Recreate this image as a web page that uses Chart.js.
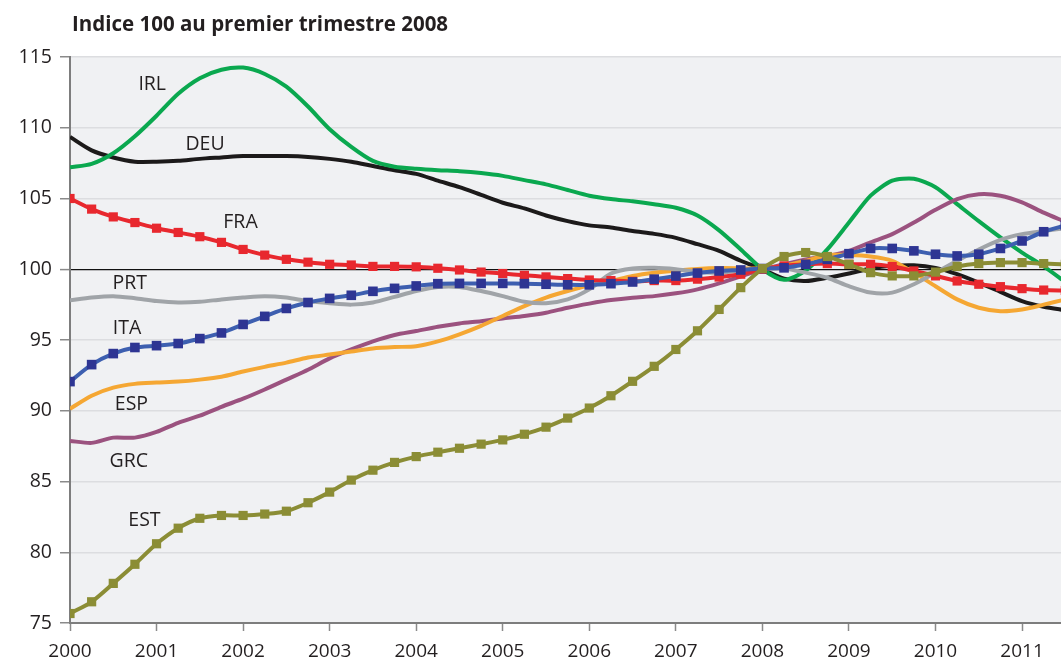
<!DOCTYPE html>
<html>
<head>
<meta charset="utf-8">
<script src="https://cdn.jsdelivr.net/npm/chart.js@4/dist/chart.umd.min.js"></script>
<style>
  body { margin: 0; background: #fff; }
  #wrap { width: 1061px; height: 664px; }
</style>
</head>
<body>
<div id="wrap"><canvas id="myChart" width="1061" height="664"></canvas></div>
<script>
// Indice 100 au premier trimestre 2008, quarterly from 2000 Q1
var years = [2000, 2001, 2002, 2003, 2004, 2005, 2006, 2007, 2008, 2009, 2010, 2011];
var yTicks = [75, 80, 85, 90, 95, 100, 105, 110, 115];

var irl = [107.2, 107.45, 108.2, 109.4, 110.85, 112.4, 113.5, 114.1, 114.25, 113.8, 112.9, 111.5, 109.9, 108.65, 107.66, 107.25,
  107.1, 107.0, 106.93, 106.8, 106.6, 106.3, 106.0, 105.6, 105.2, 104.96, 104.8, 104.6, 104.35, 103.8, 102.75, 101.4,
  100.0, 99.25, 99.9, 101.4, 103.3, 105.2, 106.26, 106.4, 105.8, 104.6, 103.4, 102.25, 101.18, 100.2, 99.1];
var deu = [109.35, 108.4, 107.9, 107.6, 107.6, 107.66, 107.8, 107.9, 108.0, 108.0, 108.0, 107.94, 107.8, 107.6, 107.3, 107.0,
  106.74, 106.26, 105.8, 105.25, 104.7, 104.3, 103.8, 103.4, 103.1, 102.95, 102.7, 102.5, 102.22, 101.77, 101.3, 100.6,
  100.0, 99.34, 99.17, 99.4, 99.7, 100.05, 100.24, 100.28, 100.1, 99.65, 99.05, 98.4, 97.75, 97.35, 97.1];
var fra = [105.0, 104.25, 103.7, 103.3, 102.9, 102.6, 102.3, 101.9, 101.4, 101.0, 100.7, 100.5, 100.35, 100.3, 100.2, 100.2,
  100.17, 100.07, 99.95, 99.8, 99.7, 99.57, 99.46, 99.34, 99.24, 99.2, 99.15, 99.2, 99.2, 99.3, 99.45, 99.65,
  100.0, 100.24, 100.35, 100.4, 100.35, 100.35, 100.19, 99.88, 99.53, 99.17, 98.94, 98.77, 98.63, 98.53, 98.5];
var prt = [97.8, 98.0, 98.1, 97.95, 97.75, 97.65, 97.7, 97.87, 98.0, 98.1, 98.0, 97.75, 97.6, 97.5, 97.65, 98.05,
  98.46, 98.75, 98.75, 98.46, 98.1, 97.7, 97.6, 97.87, 98.58, 99.7, 100.05, 100.1, 100.0, 99.8, 99.76, 99.9,
  100.05, 100.05, 99.76, 99.4, 98.8, 98.35, 98.35, 98.94, 99.76, 100.6, 101.4, 102.08, 102.48, 102.7, 102.9];
var ita = [92.06, 93.26, 94.04, 94.47, 94.6, 94.75, 95.1, 95.5, 96.1, 96.67, 97.23, 97.65, 97.94, 98.16, 98.44, 98.65,
  98.82, 98.98, 99.0, 99.0, 99.0, 98.98, 98.94, 98.9, 98.9, 98.98, 99.1, 99.3, 99.52, 99.73, 99.88, 99.95,
  100.05, 100.1, 100.35, 100.7, 101.1, 101.47, 101.47, 101.3, 101.06, 100.94, 101.06, 101.47, 102.0, 102.65, 103.1];
var esp = [90.14, 91.06, 91.63, 91.9, 91.99, 92.06, 92.2, 92.4, 92.77, 93.1, 93.4, 93.76, 93.97, 94.18, 94.4, 94.5,
  94.56, 94.9, 95.4, 96.0, 96.7, 97.4, 98.0, 98.46, 98.86, 99.17, 99.53, 99.76, 99.9, 100.02, 100.08, 100.07,
  100.05, 100.24, 100.6, 101.0, 101.0, 100.9, 100.6, 99.76, 98.8, 97.87, 97.28, 97.04, 97.16, 97.5, 97.87];
var grc = [87.87, 87.73, 88.1, 88.1, 88.5, 89.15, 89.65, 90.28, 90.85, 91.5, 92.2, 92.9, 93.7, 94.33, 94.9, 95.35,
  95.63, 95.93, 96.17, 96.33, 96.52, 96.7, 96.93, 97.28, 97.57, 97.82, 97.99, 98.1, 98.3, 98.58, 99.0, 99.5,
  100.0, 100.35, 100.7, 100.94, 101.3, 101.9, 102.48, 103.3, 104.2, 104.96, 105.3, 105.2, 104.73, 104.0, 103.35];
var est = [75.67, 76.5, 77.8, 79.15, 80.6, 81.7, 82.4, 82.6, 82.6, 82.7, 82.9, 83.5, 84.25, 85.1, 85.8, 86.35,
  86.76, 87.07, 87.35, 87.64, 87.94, 88.34, 88.84, 89.48, 90.19, 91.06, 92.08, 93.14, 94.33, 95.65, 97.16, 98.7,
  100.05, 100.9, 101.18, 100.9, 100.35, 99.76, 99.53, 99.53, 99.8, 100.19, 100.4, 100.47, 100.47, 100.4, 100.35];

// series name labels placed in data coordinates [name, year, value]
var seriesLabels = [
  ["IRL", 2000.95, 113.06],
  ["DEU", 2001.56, 108.82],
  ["FRA", 2001.97, 103.34],
  ["PRT", 2000.69, 98.99],
  ["ITA", 2000.66, 95.85],
  ["ESP", 2000.71, 90.48],
  ["GRC", 2000.68, 86.45],
  ["EST", 2000.86, 82.24]
];

var quarters = [];
years.forEach(function (y) { quarters.push(y, y + 0.25, y + 0.5, y + 0.75); });

function pts(vals) {
  return vals.map(function (v, i) { return { x: quarters[i], y: v }; });
}

var FONT = "'Open Sans', 'DejaVu Sans', sans-serif";
var TXT = "#231f20";

var areaBg = {
  id: "areaBg",
  beforeDraw: function (chart) {
    var a = chart.chartArea, c = chart.ctx;
    c.save();
    c.fillStyle = "#f0f1f3";
    c.fillRect(a.left, a.top, a.right - a.left, a.bottom - a.top);
    c.fillStyle = TXT;
    c.font = "bold 20.5px " + FONT;
    c.textAlign = "left";
    c.textBaseline = "alphabetic";
    c.fillText("Indice 100 au premier trimestre 2008", 72, 31);
    c.restore();
  },
  afterDatasetsDraw: function (chart) {
    var c = chart.ctx, sx = chart.scales.x, sy = chart.scales.y;
    c.save();
    c.fillStyle = TXT;
    c.font = "19.5px " + FONT;
    c.textAlign = "center";
    c.textBaseline = "middle";
    seriesLabels.forEach(function (l) {
      c.fillText(l[0], sx.getPixelForValue(l[1]), sy.getPixelForValue(l[2]));
    });
    c.restore();
  }
};

function line(label, vals, color, extra) {
  var ds = {
    label: label,
    data: pts(vals),
    borderColor: color,
    backgroundColor: color,
    borderWidth: 4,
    pointRadius: 0,
    tension: 0.25,
    fill: false
  };
  for (var k in extra) ds[k] = extra[k];
  return ds;
}

new Chart("myChart", {
  type: "line",
  data: {
    datasets: [
      line("EST", est, "#8b8d35", { pointStyle: "rect", pointRadius: 6.5, pointBackgroundColor: "#8b8d35", pointBorderWidth: 0 }),
      line("ITA", ita, "#3d5fb0", { pointStyle: "rect", pointRadius: 6.8, pointBackgroundColor: "#2e3593", pointBorderWidth: 0 }),
      line("FRA", fra, "#e8282e", { pointStyle: "rect", pointRadius: 6.5, pointBackgroundColor: "#e8282e", pointBorderWidth: 0 }),
      line("PRT", prt, "#a0a4a8"),
      line("ESP", esp, "#f5a733"),
      line("GRC", grc, "#9b527f"),
      line("IRL", irl, "#0aa84f"),
      line("DEU", deu, "#1c1a1a")
    ]
  },
  options: {
    responsive: false,
    animation: false,
    layout: { autoPadding: false, padding: { top: 57, left: 0, right: 0, bottom: 0 } },
    plugins: {
      legend: { display: false },
      title: { display: false },
      tooltip: { enabled: false }
    },
    scales: {
      x: {
        type: "linear",
        min: 2000,
        max: 2011.45,
        afterBuildTicks: function (scale) {
          scale.ticks = years.map(function (v) { return { value: v }; });
        },
        afterFit: function (scale) { scale.height = 41; },
        ticks: {
          autoSkip: false,
          maxRotation: 0,
          padding: 9,
          color: TXT,
          font: { family: FONT, size: 19 },
          callback: function (v) { return String(v); }
        },
        grid: { drawOnChartArea: false, drawTicks: true, tickLength: 8, tickColor: "#8a8a8a", tickWidth: 1.5 },
        border: { display: true, color: "#7d7d7d", width: 2 }
      },
      y: {
        min: 75,
        max: 115,
        afterBuildTicks: function (scale) {
          scale.ticks = yTicks.map(function (v) { return { value: v }; });
        },
        afterFit: function (scale) { scale.width = 70; },
        ticks: {
          padding: 8,
          color: TXT,
          font: { family: FONT, size: 19.5 },
          callback: function (v) { return String(v); }
        },
        grid: {
          color: function (ctx) { return ctx.tick && ctx.tick.value === 100 ? "#111111" : "#dcdde0"; },
          lineWidth: function (ctx) { return ctx.tick && ctx.tick.value === 100 ? 1.2 : 1.5; },
          drawTicks: true,
          tickLength: 10,
          tickColor: "#8a8a8a",
          tickWidth: 1.5
        },
        border: { display: true, color: "#7d7d7d", width: 2 }
      }
    }
  },
  plugins: [areaBg]
});
</script>
</body>
</html>
